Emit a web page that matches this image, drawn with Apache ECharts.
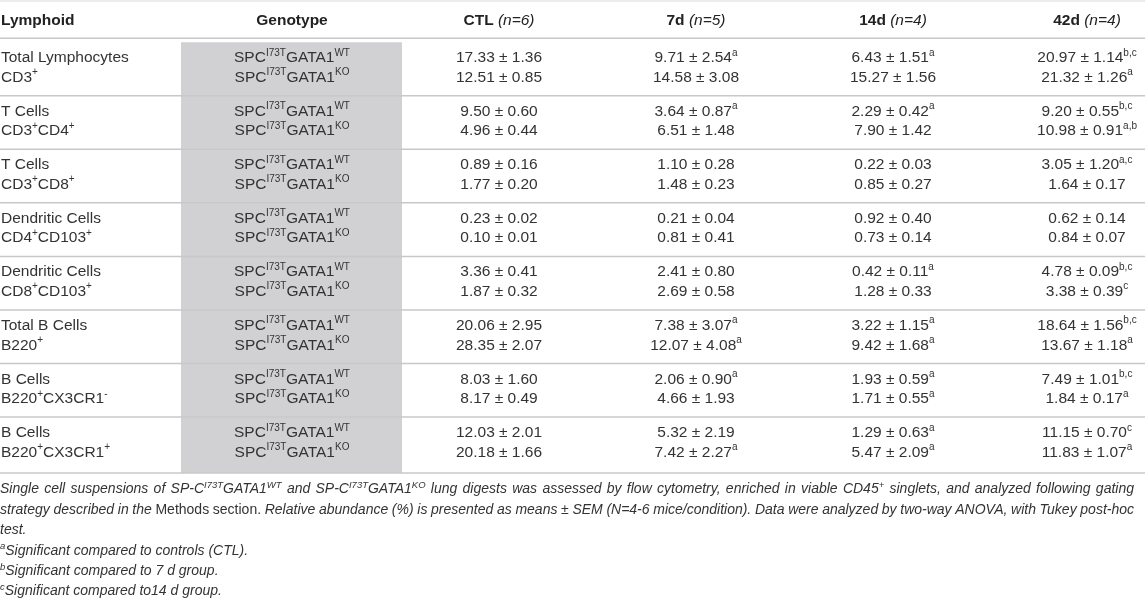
<!DOCTYPE html>
<html>
<head>
<meta charset="utf-8">
<title>Lymphoid populations</title>
<script src="https://cdn.jsdelivr.net/npm/echarts@6/dist/echarts.min.js"></script>
<style>
	html, body { margin: 0; padding: 0; background: #fff; }
	#main { width: 1145px; height: 601px; }
</style>
</head>
<body>
<div id="main"></div>
<script>
// table rows
var cellTypes = ['Total Lymphocytes', 'T Cells', 'T Cells', 'Dendritic Cells', 'Dendritic Cells', 'Total B Cells', 'B Cells', 'B Cells'];
var markers = ['CD3^{+}', 'CD3^{+}CD4^{+}', 'CD3^{+}CD8^{+}', 'CD4^{+}CD103^{+}', 'CD8^{+}CD103^{+}', 'B220^{+}', 'B220^{+}CX3CR1^{-}', 'B220^{+}CX3CR1^{+}'];
var genotypes = ['SPC^{I73T}GATA1^{WT}', 'SPC^{I73T}GATA1^{KO}'];
var groups = ['CTL', '7d', '14d', '42d'];
var groupN = [6, 5, 4, 4];

// means and SEM, one inner array per group (CTL, 7d, 14d, 42d)
var meanWT = [
	[17.33, 9.50, 0.89, 0.23, 3.36, 20.06, 8.03, 12.03],
	[9.71, 3.64, 1.10, 0.21, 2.41, 7.38, 2.06, 5.32],
	[6.43, 2.29, 0.22, 0.92, 0.42, 3.22, 1.93, 1.29],
	[20.97, 9.20, 3.05, 0.62, 4.78, 18.64, 7.49, 11.15]
];
var semWT = [
	[1.36, 0.60, 0.16, 0.02, 0.41, 2.95, 1.60, 2.01],
	[2.54, 0.87, 0.28, 0.04, 0.80, 3.07, 0.90, 2.19],
	[1.51, 0.42, 0.03, 0.40, 0.11, 1.15, 0.59, 0.63],
	[1.14, 0.55, 1.20, 0.14, 0.09, 1.56, 1.01, 0.70]
];
var sigWT = [
	['', '', '', '', '', '', '', ''],
	['a', 'a', '', '', '', 'a', 'a', ''],
	['a', 'a', '', '', 'a', 'a', 'a', 'a'],
	['b,c', 'b,c', 'a,c', '', 'b,c', 'b,c', 'b,c', 'c']
];
var meanKO = [
	[12.51, 4.96, 1.77, 0.10, 1.87, 28.35, 8.17, 20.18],
	[14.58, 6.51, 1.48, 0.81, 2.69, 12.07, 4.66, 7.42],
	[15.27, 7.90, 0.85, 0.73, 1.28, 9.42, 1.71, 5.47],
	[21.32, 10.98, 1.64, 0.84, 3.38, 13.67, 1.84, 11.83]
];
var semKO = [
	[0.85, 0.44, 0.20, 0.01, 0.32, 2.07, 0.49, 1.66],
	[3.08, 1.48, 0.23, 0.41, 0.58, 4.08, 1.93, 2.27],
	[1.56, 1.42, 0.27, 0.14, 0.33, 1.68, 0.55, 2.09],
	[1.26, 0.91, 0.17, 0.07, 0.39, 1.18, 0.17, 1.07]
];
var sigKO = [
	['', '', '', '', '', '', '', ''],
	['', '', '', '', '', 'a', '', 'a'],
	['', '', '', '', '', 'a', 'a', 'a'],
	['a', 'a,b', '', '', 'c', 'a', 'a', 'a']
];

var captionLines = [
	'Single cell suspensions of SP-C^{I73T}GATA1^{WT} and SP-C^{I73T}GATA1^{KO} lung digests was assessed by flow cytometry, enriched in viable CD45^{+} singlets, and analyzed following gating',
	'strategy described in the {up|Methods section.} Relative abundance (%) is presented as means ± SEM (N=4-6 mice/condition). Data were analyzed by two-way ANOVA, with Tukey post-hoc',
	'test.',
	'^{a}Significant compared to controls (CTL).',
	'^{b}Significant compared to 7 d group.',
	'^{c}Significant compared to14 d group.'
];
var captionJustified = [true, true, false, false, false, false];

// layout
var W = 1145;
var FONT = '"Liberation Sans", Arial, sans-serif';
var TEXT = '#333';
var RULE = '#c8c8c8';
var COL_X = [1, 292, 499, 696, 893, 1087];
var GRAY_L = 181, GRAY_R = 402;
var HEAD_Y = 20.5, HEAD_LINE = 38.3;
var BODY_TOP = 42.2, ROW_H = 53.55, BODY_BOTTOM = 473;
var CAP_Y = 489.5, CAP_STEP = 20.4, CAP_RIGHT = 1134;
var CAP_SIZE = 14, CAP_SUP = 9.5;

function sup(s) {
	return s.replace(/\^\{([^}]*)\}/g, '{sup|$1}');
}

function bodyText(str, x, y, align) {
	return {
		type: 'text', x: x, y: y, z2: 5,
		style: {
			text: sup(str), align: align, verticalAlign: 'middle',
			fontSize: 15.5, fontFamily: FONT, fill: TEXT, lineHeight: 20,
			rich: {
				sup: { fontSize: 10, fontFamily: FONT, fill: TEXT, lineHeight: 10, verticalAlign: 'top' }
			}
		}
	};
}

function cellValue(mean, sem, sig) {
	var s = mean.toFixed(2) + ' ± ' + sem.toFixed(2);
	if (sig) s += '^{' + sig + '}';
	return s;
}

function renderRow(params, api) {
	var r = api.value(1);
	var last = r === cellTypes.length - 1;
	var cy = api.coord([0, r])[1];
	var bh = api.size([0, 1])[1];
	var top = cy - bh / 2;
	var bottom = last ? BODY_BOTTOM : cy + bh / 2;
	var px = function (v) { return api.coord([v, r])[0]; };
	var y1 = cy - 11, y2 = cy + 8.5;
	var kids = [
		{ type: 'rect', z2: 0, shape: { x: px(GRAY_L), y: top, width: px(GRAY_R) - px(GRAY_L), height: bottom - top }, style: { fill: '#d1d1d3' } },
		{ type: 'line', z2: 10, shape: { x1: px(0), y1: bottom, x2: px(W), y2: bottom }, style: { stroke: RULE, lineWidth: 1.5 } },
		bodyText(cellTypes[r], px(COL_X[0]), y1, 'left'),
		bodyText(markers[r], px(COL_X[0]), y2, 'left'),
		bodyText(genotypes[0], px(COL_X[1]), y1, 'center'),
		bodyText(genotypes[1], px(COL_X[1]), y2, 'center')
	];
	for (var g = 0; g < groups.length; g++) {
		kids.push(bodyText(cellValue(meanWT[g][r], semWT[g][r], sigWT[g][r]), px(COL_X[g + 2]), y1, 'center'));
		kids.push(bodyText(cellValue(meanKO[g][r], semKO[g][r], sigKO[g][r]), px(COL_X[g + 2]), y2, 'center'));
	}
	return { type: 'group', children: kids };
}

// caption: split into words so the first two lines can be justified
var measure = document.createElement('canvas').getContext('2d');
var capFonts = {
	it: 'italic ' + CAP_SIZE + 'px ' + FONT,
	sup: 'italic ' + CAP_SUP + 'px ' + FONT,
	up: CAP_SIZE + 'px ' + FONT
};
function widthOf(str, kind) {
	measure.font = capFonts[kind];
	return measure.measureText(str).width;
}
function captionWords(line) {
	var re = /\^\{([^}]*)\}|\{up\|([^}]*)\}|([^^{]+)/g, m, words = [[]];
	while ((m = re.exec(line)) !== null) {
		var kind = m[1] !== undefined ? 'sup' : (m[2] !== undefined ? 'up' : 'it');
		var txt = m[1] !== undefined ? m[1] : (m[2] !== undefined ? m[2] : m[3]);
		var parts = kind === 'sup' ? [txt] : txt.split(' ');
		for (var p = 0; p < parts.length; p++) {
			if (p > 0) words.push([]);
			if (parts[p] !== '') words[words.length - 1].push({ kind: kind, text: parts[p] });
		}
	}
	return words.filter(function (w) { return w.length; });
}
function captionGraphics(line, y, justify) {
	var words = captionWords(line);
	var widths = words.map(function (w) {
		return w.reduce(function (s, seg) { return s + widthOf(seg.text, seg.kind); }, 0);
	});
	var total = widths.reduce(function (a, b) { return a + b; }, 0);
	var gap = justify && words.length > 1 ? (CAP_RIGHT - total) / (words.length - 1) : widthOf(' ', 'it');
	var x = 0, out = [];
	for (var i = 0; i < words.length; i++) {
		var rich = words[i].map(function (seg) {
			return seg.kind === 'it' ? seg.text : '{' + seg.kind + '|' + seg.text + '}';
		}).join('');
		out.push({
			type: 'text', x: x, y: y,
			style: {
				text: rich, align: 'left', verticalAlign: 'middle',
				fontSize: CAP_SIZE, fontStyle: 'italic', fontFamily: FONT, fill: TEXT, lineHeight: 18,
				rich: {
					sup: { fontSize: CAP_SUP, fontStyle: 'italic', fontFamily: FONT, fill: TEXT, lineHeight: 9, verticalAlign: 'top' },
					up: { fontSize: CAP_SIZE, fontFamily: FONT, fill: TEXT }
				}
			}
		});
		x += widths[i] + gap;
	}
	return out;
}

var graphics = [
	{ type: 'line', shape: { x1: 0, y1: 1, x2: W, y2: 1 }, style: { stroke: '#e6e6e6', lineWidth: 1.5 } },
	{ type: 'line', shape: { x1: 0, y1: HEAD_LINE, x2: W, y2: HEAD_LINE }, style: { stroke: RULE, lineWidth: 1.5 } }
];
var headText = function (text, x, align) {
	return {
		type: 'text', x: x, y: HEAD_Y,
		style: {
			text: text, align: align, verticalAlign: 'middle',
			fontSize: 15.5, fontWeight: 'bold', fontFamily: FONT, fill: '#222',
			rich: { i: { fontSize: 15.5, fontStyle: 'italic', fontWeight: 'normal', fontFamily: FONT, fill: '#222' } }
		}
	};
};
graphics.push(headText('Lymphoid', COL_X[0], 'left'));
graphics.push(headText('Genotype', COL_X[1], 'center'));
for (var g = 0; g < groups.length; g++) {
	graphics.push(headText(groups[g] + ' {i|(n=' + groupN[g] + ')}', COL_X[g + 2], 'center'));
}
for (var k = 0; k < captionLines.length; k++) {
	graphics = graphics.concat(captionGraphics(captionLines[k], CAP_Y + k * CAP_STEP, captionJustified[k]));
}

var chart = echarts.init(document.getElementById('main'));
chart.setOption({
	animation: false,
	grid: { left: 0, right: 0, top: BODY_TOP, height: ROW_H * cellTypes.length },
	xAxis: { type: 'value', min: 0, max: W, show: false },
	yAxis: { type: 'category', data: cellTypes.map(function (c, i) { return String(i); }), inverse: true, show: false },
	series: [{
		type: 'custom',
		renderItem: renderRow,
		data: cellTypes.map(function (c, i) { return [0, i]; })
	}],
	graphic: graphics
});
</script>
</body>
</html>
